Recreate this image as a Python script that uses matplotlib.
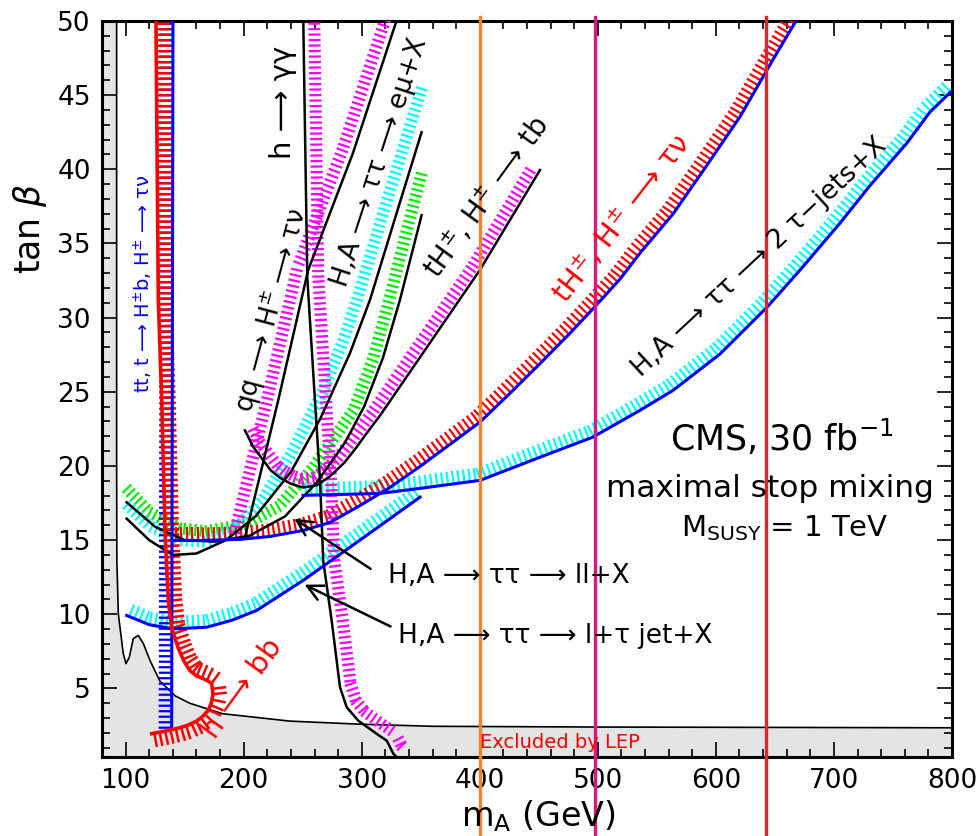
import numpy as np
import matplotlib
matplotlib.use("Agg")
import matplotlib.pyplot as plt
from matplotlib.collections import LineCollection
from matplotlib.ticker import MultipleLocator

plt.rcParams['mathtext.fontset'] = 'dejavusans'
plt.rcParams['font.family'] = ['DejaVu Sans']

# ---- curves: (m_A [GeV], tan beta) ----
lep_mA = [92.4, 92.4, 92.6, 93.8, 98.0, 100.3, 103.1, 106.5, 110.8, 115.0, 120.7,
          129, 142, 154.5, 182, 239, 296, 360, 500, 800]
lep_tb = [50, 20, 13.6, 10.05, 7.35, 6.68, 7.1, 8.37, 8.57, 8.03, 6.88,
          5.5, 4.5, 4.0, 3.3, 2.8, 2.6, 2.45, 2.4, 2.35]

hbb_mA = [125.7, 127.7, 130.6, 133.4, 136.2, 139.0, 144.4, 149, 154.5, 160, 165.5, 170, 172.9,
          174.0, 172.5, 169.8, 165, 160.2, 152, 143.3, 132, 122.1]
hbb_tb = [50, 31.2, 24.4, 15.45, 10.9, 9.1, 7.76, 6.9, 6.2, 5.85, 5.67, 5.5, 5.33,
          4.6, 4.0, 3.5, 3.1, 2.8, 2.5, 2.3, 2.1, 1.95]

ttb_mA = [140.1, 139.0]
ttb_tb = [50, 2.3]

hgg_mA = [250.5, 253.9, 260.4, 264.7, 267.4, 274.5, 281.6, 287.3, 297.1, 312.7, 321.2, 326.8, 330]
hgg_tb = [50, 32.7, 24.4, 19.03, 13.6, 9.6, 5.08, 3.73, 2.83, 1.94, 1.48, 0.6, 0.34]

qq_mA = [329.4, 292.6, 254.6, 229.2, 201.1]
qq_tb = [50, 41.1, 33.2, 24.4, 15.2]

tb_mA = [201.1, 208, 216.4, 223, 230.8, 240, 250.3, 262, 273, 285, 295, 305, 315.5, 350, 400, 451]
tb_tb = [22.4, 21.3, 20.4, 19.7, 19.2, 18.8, 18.55, 18.7, 19.3, 20.2, 21.2, 22.3, 23.4, 27.4, 33.2, 39.95]

jj_mA = [250.3, 281.6, 315.5, 349.4, 400.2, 451.0, 495.9, 535.7, 563.8, 603.5, 643.3,
         671.2, 705.1, 730.5, 761.8, 781.3, 800]
jj_tb = [18.02, 18.08, 18.15, 18.49, 19.03, 20.59, 21.95, 23.75, 25.1, 27.55, 30.7,
         33.2, 36.37, 38.9, 41.77, 43.86, 45.3]

tnu_mA = [140.1, 163.0, 196.9, 222.3, 250.3, 273.1, 298.5, 323.9, 349.4, 374.8, 400.2, 425.6,
          451.0, 476.4, 495.9, 518.8, 535.7, 563.8, 590.9, 620.4, 648.4, 667.8]
tnu_tb = [14.98, 14.98, 15.05, 15.25, 15.65, 16.19, 17.33, 18.55, 19.97, 21.46, 22.96, 24.9,
          26.9, 28.95, 30.6, 32.6, 34.35, 37.0, 40.1, 43.54, 47.4, 50.0]

ltau_mA = [100.9, 120, 140.4, 168.7, 190, 211, 250.3, 298.5, 349.4]
ltau_tb = [9.92, 9.3, 9.02, 9.13, 9.6, 10.26, 12.28, 15.0, 17.9]

ll_band_mA = [99.5, 120, 146, 168, 203, 230, 259, 293, 310, 323.3, 337, 351]
ll_band_tb = [18.6, 16.9, 15.8, 15.6, 16.1, 17.3, 19.9, 23.75, 27.3, 31.2, 35.5, 39.8]
ll_mA = [100.9, 125, 150, 175, 205, 235, 262, 286, 302, 318, 332.4, 350.7]
ll_tb = [17.55, 15.9, 15.0, 14.9, 15.3, 16.6, 18.9, 21.6, 24.0, 27.3, 31.2, 36.9]

emu_band_mA = [99.5, 120, 145, 170, 195, 215, 240, 267, 285, 296, 323, 351]
emu_band_tb = [17.5, 16.0, 15.0, 14.9, 15.9, 17.6, 20.8, 25.0, 28.6, 31.2, 38.3, 45.5]
emu_mA = [100.9, 120, 140, 160, 185, 210, 240, 265, 290, 307, 329, 350.7]
emu_tb = [16.45, 15.0, 14.0, 14.1, 15.0, 16.6, 19.6, 23.2, 27.6, 31.2, 36.9, 42.5]

vlines_mA = [400, 498, 642.4]
vlines_col = ['#f08232', '#e0157f', '#e8202a']

xticks = [100, 200, 300, 400, 500, 600, 700, 800]
yticks = [5, 10, 15, 20, 25, 30, 35, 40, 45, 50]


def hatch(ax, x, y, color, side=1, gap=0.0, length=12.0, step=5.5, lw=1.6, z=3):
    # short strokes perpendicular to the curve, laid out in pixel space
    pts = ax.transData.transform(np.column_stack([x, y]))
    seg = np.diff(pts, axis=0)
    seglen = np.hypot(seg[:, 0], seg[:, 1])
    cum = np.concatenate([[0], np.cumsum(seglen)])
    s = np.arange(step / 2, cum[-1], step)
    px = np.interp(s, cum, pts[:, 0])
    py = np.interp(s, cum, pts[:, 1])
    i = np.clip(np.searchsorted(cum, s) - 1, 0, len(seg) - 1)
    tx, ty = seg[i, 0] / seglen[i], seg[i, 1] / seglen[i]
    nx, ny = -ty, tx
    if side == 0:
        a, b = -length / 2, length / 2
    else:
        a, b = side * gap, side * (gap + length)
    p0 = np.column_stack([px + a * nx, py + a * ny])
    p1 = np.column_stack([px + b * nx, py + b * ny])
    inv = ax.transData.inverted()
    segs = np.stack([inv.transform(p0), inv.transform(p1)], axis=1)
    ax.add_collection(LineCollection(segs, colors=color, linewidths=lw,
                                     capstyle='butt', zorder=z))


fig = plt.figure(figsize=(9.78, 8.36), dpi=100)
ax = fig.add_axes([0.1043, 0.0945, 0.8691, 0.8804])
ax.set_xlim(80, 800)
ax.set_ylim(0.38, 50)

# LEP excluded area
poly_x = [80, 80] + lep_mA + [800]
poly_y = [0.38, 50] + lep_tb + [0.38]
ax.fill(poly_x, poly_y, color='#e4e4e4', zorder=0.5, lw=0)
ax.plot(lep_mA, lep_tb, color='black', lw=1.2, zorder=2)

# bands without their own line
hatch(ax, ll_band_mA, ll_band_tb, '#00ee00', side=0, length=12)
hatch(ax, emu_band_mA, emu_band_tb, '#00ffff', side=0, length=12)

# hatched edges attached to lines
hatch(ax, jj_mA, jj_tb, '#00ffff', side=1, gap=1, length=12)
hatch(ax, ltau_mA, ltau_tb, '#00ffff', side=1, gap=1, length=12)
hatch(ax, tnu_mA, tnu_tb, '#ff0000', side=1, gap=1, length=12)
hatch(ax, tb_mA, tb_tb, '#ff00ff', side=1, gap=2, length=12)
hatch(ax, hgg_mA, hgg_tb, '#ff00ff', side=1, gap=5, length=12)
hatch(ax, qq_mA, qq_tb, '#ff00ff', side=-1, gap=5, length=12)
hatch(ax, ttb_mA, ttb_tb, '#0000ff', side=-1, gap=1, length=12)
hatch(ax, hbb_mA, hbb_tb, '#ff0000', side=1, gap=1, length=13, lw=1.8)

for xs, ys in [(ll_mA, ll_tb), (emu_mA, emu_tb), (hgg_mA, hgg_tb),
               (qq_mA, qq_tb), (tb_mA, tb_tb)]:
    ax.plot(xs, ys, color='black', lw=1.8, zorder=4)
for xs, ys in [(jj_mA, jj_tb), (tnu_mA, tnu_tb), (ltau_mA, ltau_tb), (ttb_mA, ttb_tb)]:
    ax.plot(xs, ys, color='#0000ff', lw=2.2, zorder=4)
ax.plot(hbb_mA, hbb_tb, color='#ff0000', lw=2.6, zorder=4)

for xv, c in zip(vlines_mA, vlines_col):
    ax.axvline(xv, ymin=-0.108, ymax=1.005, color=c, lw=2.4, clip_on=False, zorder=6)

# labels
def lab(x, y, s, rot, size=20, color='black', **kw):
    ax.text(x, y, s, rotation=rot, rotation_mode='anchor', ha='center', va='center',
            fontsize=size, color=color, zorder=7, **kw)

lab(233.3, 44.5, 'h ⟶ γγ', 90, 21)
lab(224, 30.5, 'qq ⟶ H$^{\\pm}$ ⟶ τν', 75, 19)
lab(315, 40.5, 'H,A ⟶ ττ ⟶ eμ+X', 72, 19)
lab(406, 38.1, 'tH$^{\\pm}$, H$^{\\pm}$ ⟶ tb', 54, 20)
lab(520.5, 36.7, 'tH$^{\\pm}$, H$^{\\pm}$ ⟶ τν', 52, 21, color='#ff0000')
lab(637.4, 34.1, 'H,A ⟶ ττ ⟶ 2 τ−jets+X', 43, 19)
lab(114.7, 32.3, 'tt, t ⟶ H$^{\\pm}$b, H$^{\\pm}$ ⟶ τν', 90, 14, color='#0000ff')
lab(199.4, 5.0, 'h ⟶ bb', 54, 21, color='#ff0000')
lab(468, 1.35, 'Excluded by LEP', 0, 14, color='#ff0000')
lab(656, 21.9, 'CMS, 30 fb$^{-1}$', 0, 25)
lab(645.8, 18.5, 'maximal stop mixing', 0, 22.5)
lab(658.5, 15.8, 'M$_{\\rm SUSY}$ = 1 TeV', 0, 21)

ax.text(322.3, 12.55, 'H,A ⟶ ττ ⟶ ll+X', ha='left', va='center', fontsize=19, zorder=7)
ax.text(330.7, 8.57, 'H,A ⟶ ττ ⟶ l+τ jet+X', ha='left', va='center', fontsize=19, zorder=7)
arrow = dict(arrowstyle='->', color='black', lw=1.8, mutation_scale=28)
ax.annotate('', xy=(240.9, 16.55), xytext=(309.5, 12.96), arrowprops=arrow, zorder=7)
ax.annotate('', xy=(249.4, 12.08), xytext=(326.5, 9.1), arrowprops=arrow, zorder=7)

# axes styling
ax.set_xticks(xticks)
ax.set_yticks(yticks)
ax.xaxis.set_minor_locator(MultipleLocator(20))
ax.yaxis.set_minor_locator(MultipleLocator(1))
ax.tick_params(which='both', direction='in', top=True, right=True, width=1.2, labelsize=19)
ax.tick_params(which='major', length=11, pad=8)
ax.tick_params(which='minor', length=6)
for sp in ax.spines.values():
    sp.set_linewidth(2.2)

fig.text(0.031, 0.727, r'tan $\beta$', rotation=90, ha='center', va='center', fontsize=25)
fig.text(0.551, 0.024, r'm$_{\rm A}$ (GeV)', ha='center', va='center', fontsize=24)

fig.savefig('out.png', dpi=100)
